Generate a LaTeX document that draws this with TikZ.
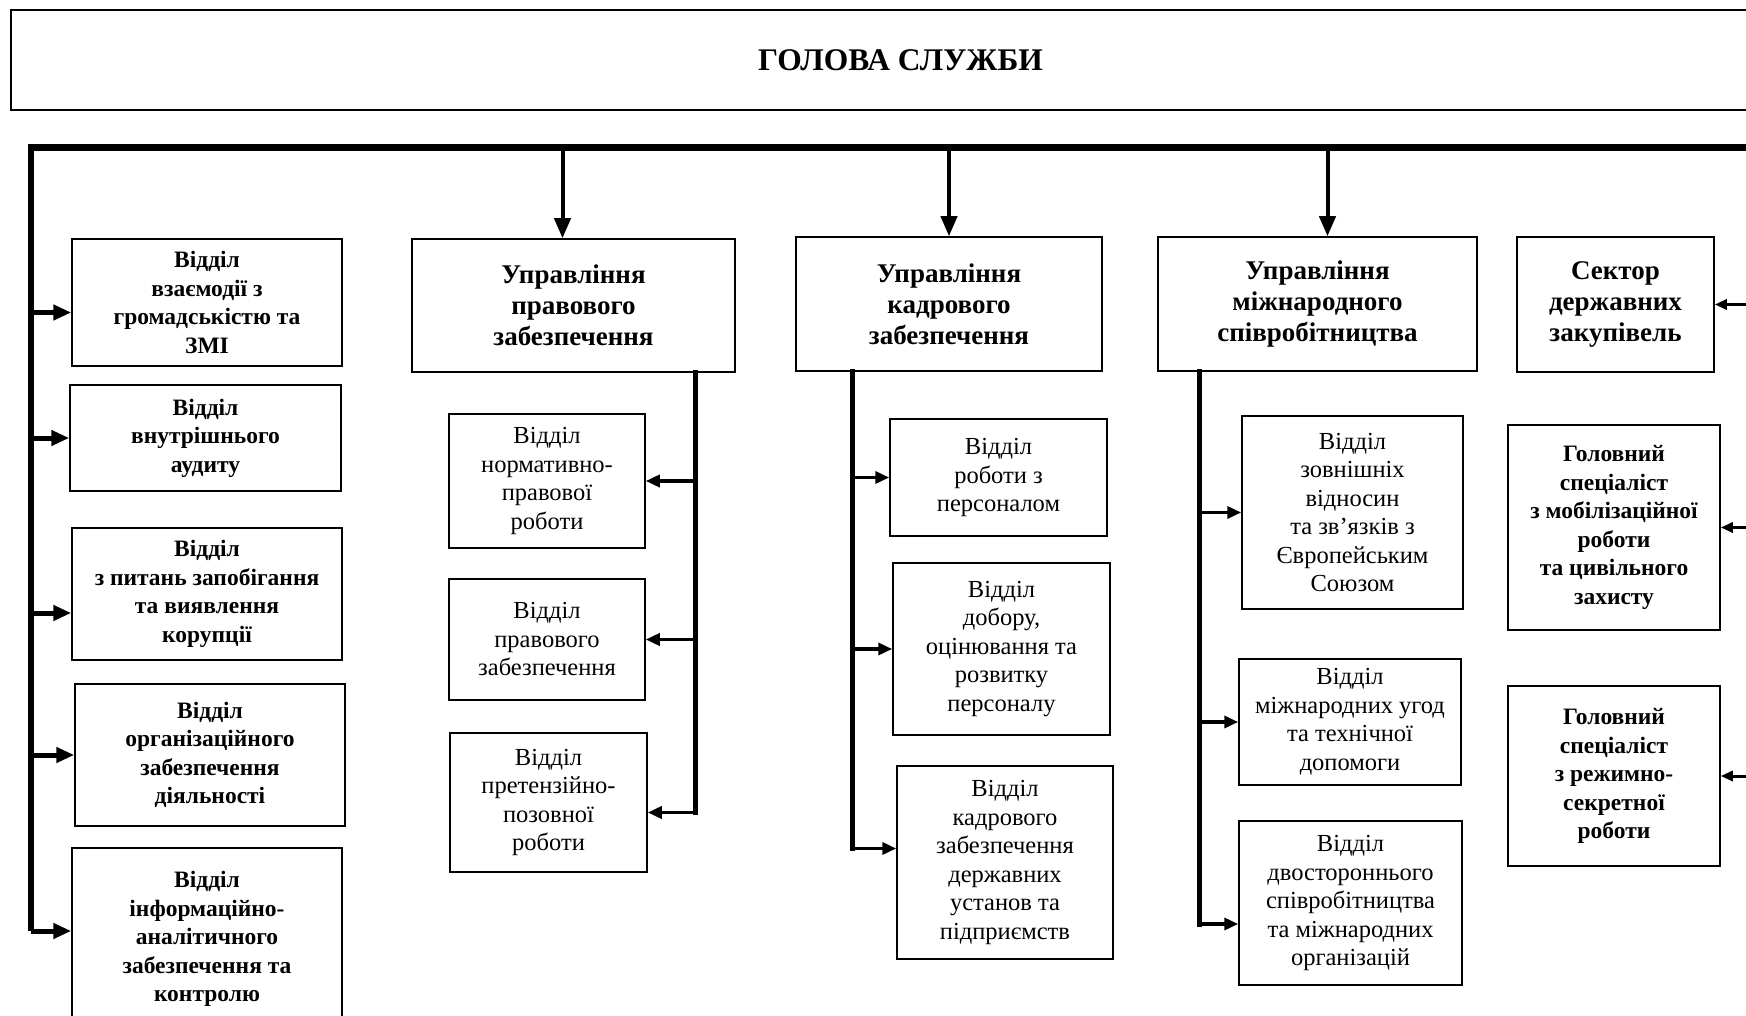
\documentclass[tikz,border=0pt]{standalone}
\usepackage{fontspec}
\setmainfont{Liberation Serif}
\usetikzlibrary{arrows.meta}
\usetikzlibrary{positioning}

\begin{document}
\begin{tikzpicture}[x=1pt,y=-1pt,
box/.style={draw, line width=1.5pt, align=center, inner sep=1pt, font=\fontsize{24.5}{28.5}\selectfont},
bbox/.style={box, font=\fontsize{23.5}{28.5}\selectfont\bfseries},
hbox/.style={box, font=\fontsize{27}{31}\selectfont\bfseries},
bus/.style={line width=7pt, line cap=rect},
trunk/.style={line width=5pt, line cap=rect},
down/.style={line width=4pt, -{Triangle[length=20pt,width=16pt]}},
larr/.style={line width=5pt, -{Triangle[length=18pt,width=15pt]}},
sarr/.style={line width=3.5pt, -{Triangle[length=14pt,width=12pt]}},
rarr/.style={line width=3pt, -{Triangle[length=12pt,width=10pt]}}]
\useasboundingbox (0,0) rectangle (1746,1016);
\clip (0,0) rectangle (1746,1016);

\node[box, minimum width=1779pt, minimum height=100pt, font=\fontsize{31.5}{36}\selectfont\bfseries] (h) at (900.5,60) {ГОЛОВА СЛУЖБИ};

\node[bbox, minimum width=270pt, minimum height=127pt] (L1) at (207,302.5) {Відділ\\взаємодії з\\громадськістю та\\ЗМІ};
\node[bbox, minimum width=271pt, minimum height=106pt] (L2) at (205.5,438) {Відділ\\внутрішнього\\аудиту};
\node[bbox, minimum width=270pt, minimum height=132pt] (L3) at (207,594) {Відділ\\з питань запобігання\\та виявлення\\корупції};
\node[bbox, minimum width=270pt, minimum height=142pt] (L4) at (210,755) {Відділ\\організаційного\\забезпечення\\діяльності};
\node[bbox, minimum width=270pt, minimum height=182pt] (L5) at (207,939) {Відділ\\інформаційно-\\аналітичного\\забезпечення та\\контролю};

\node[hbox, minimum width=323pt, minimum height=133pt] (u1) at (573.5,305.5) {Управління\\правового\\забезпечення};
\node[box, minimum width=196pt, minimum height=134pt] (p1) at (547,481) {Відділ\\нормативно-\\правової\\роботи};
\node[box, minimum width=196pt, minimum height=121pt] (p2) at (547,639.5) {Відділ\\правового\\забезпечення};
\node[box, minimum width=197pt, minimum height=139pt] (p3) at (548.5,802.5) {Відділ\\претензійно-\\позовної\\роботи};

\node[hbox, minimum width=306pt, minimum height=134pt] (u2) at (949,304) {Управління\\кадрового\\забезпечення};
\node[box, minimum width=217pt, minimum height=117pt] (k1) at (998.5,477.5) {Відділ\\роботи з\\персоналом};
\node[box, minimum width=217pt, minimum height=172pt] (k2) at (1001.5,649) {Відділ\\добору,\\оцінювання та\\розвитку\\персоналу};
\node[box, minimum width=216pt, minimum height=193pt] (k3) at (1005,862.5) {Відділ\\кадрового\\забезпечення\\державних\\установ та\\підприємств};

\node[hbox, minimum width=319pt, minimum height=134pt] (u3) at (1317.5,304) {Управління\\міжнародного\\співробітництва};
\node[box, minimum width=221pt, minimum height=193pt] (m1) at (1352.5,512.5) {Відділ\\зовнішніх\\відносин\\та зв’язків з\\Європейським\\Союзом};
\node[box, minimum width=222pt, minimum height=126pt] (m2) at (1350,722) {Відділ\\міжнародних угод\\та технічної\\допомоги};
\node[box, minimum width=223pt, minimum height=164pt] (m3) at (1350.5,903) {Відділ\\двостороннього\\співробітництва\\та міжнародних\\організацій};

\node[hbox, minimum width=197pt, minimum height=135pt] (r1) at (1615.5,304.5) {Сектор\\державних\\закупівель};
\node[bbox, minimum width=212pt, minimum height=205pt] (r2) at (1614,527.5) {Головний\\спеціаліст\\з мобілізаційної\\роботи\\та цивільного\\захисту};
\node[bbox, minimum width=212pt, minimum height=180pt] (r3) at (1614,776) {Головний\\спеціаліст\\з режимно-\\секретної\\роботи};

\coordinate (lt) at (31,148);
\coordinate (br) at (1760,148);
\coordinate (re) at (1746,0);
\coordinate (da1) at ([xshift=-11pt]u1.north);
\coordinate (da3) at ([xshift=10pt]u3.north);
\coordinate (t2) at ([xshift=-40pt]u1.south east);
\coordinate (t3) at ([xshift=57pt]u2.south west);
\coordinate (t4) at ([xshift=42pt]u3.south west);
\coordinate (la1) at ([yshift=-10pt]L1.west);
\coordinate (la3) at ([yshift=-19pt]L3.west);
\coordinate (la5) at ([yshift=8pt]L5.west);
\coordinate (pa3) at ([yshift=-10pt]p3.east);
\coordinate (ka3) at ([yshift=14pt]k3.west);
\coordinate (ma3) at ([yshift=-21pt]m3.west);

\draw[bus] (lt) -- (br);
\draw[line width=6pt] (lt) -- (lt |- la5);
\draw[down] (da1 |- lt) -- (da1);
\draw[down] (u2.north |- lt) -- (u2.north);
\draw[down] (da3 |- lt) -- (da3);

\draw[larr] (lt |- la1) -- (la1);
\draw[larr] (lt |- L2.west) -- (L2.west);
\draw[larr] (lt |- la3) -- (la3);
\draw[larr] (lt |- L4.west) -- (L4.west);
\draw[larr] (lt |- la5) -- (la5);

\draw[trunk] (t2) -- (t2 |- pa3);
\draw[sarr] (t2 |- p1.east) -- (p1.east);
\draw[sarr] (t2 |- p2.east) -- (p2.east);
\draw[sarr] (t2 |- pa3) -- (pa3);

\draw[trunk] (t3) -- (t3 |- ka3);
\draw[sarr] (t3 |- k1.west) -- (k1.west);
\draw[sarr] (t3 |- k2.west) -- (k2.west);
\draw[sarr] (t3 |- ka3) -- (ka3);

\draw[trunk] (t4) -- (t4 |- ma3);
\draw[sarr] (t4 |- m1.west) -- (m1.west);
\draw[sarr] (t4 |- m2.west) -- (m2.west);
\draw[sarr] (t4 |- ma3) -- (ma3);

\draw[rarr] (re |- r1.east) -- (r1.east);
\draw[rarr] (re |- r2.east) -- (r2.east);
\draw[rarr] (re |- r3.east) -- (r3.east);
\end{tikzpicture}
\end{document}
